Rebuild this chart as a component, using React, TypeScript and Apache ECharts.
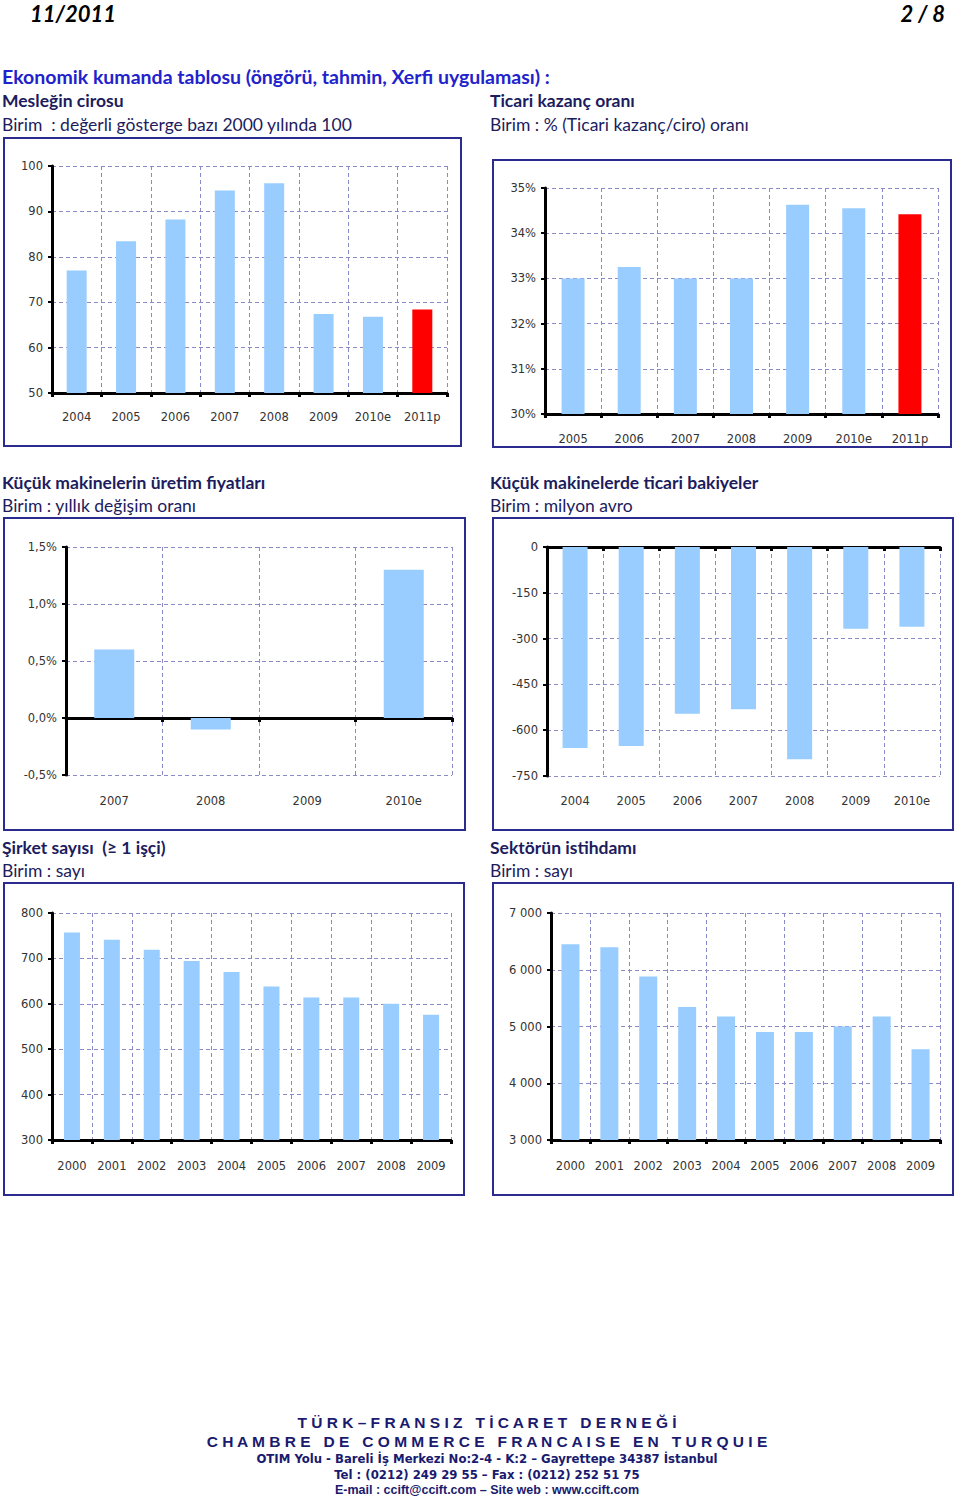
import React, { useEffect, useRef } from "react";
import * as echarts from "echarts";

const C1_CATS = ["2004", "2005", "2006", "2007", "2008", "2009", "2010e", "2011p"];
const C1_VALS = [77.0, 83.4, 88.2, 94.6, 96.2, 67.4, 66.8, 68.4];
const C2_CATS = ["2005", "2006", "2007", "2008", "2009", "2010e", "2011p"];
const C2_VALS = [33.0, 33.25, 33.0, 33.0, 34.63, 34.55, 34.42];
const C3_CATS = ["2007", "2008", "2009", "2010e"];
const C3_VALS = [0.6, -0.1, 0, 1.3];
const C4_CATS = ["2004", "2005", "2006", "2007", "2008", "2009", "2010e"];
const C4_VALS = [-658, -652, -546, -531, -695, -268, -261];
const C5_CATS = ["2000", "2001", "2002", "2003", "2004", "2005", "2006", "2007", "2008", "2009"];
const C5_VALS = [757, 741, 719, 694, 670, 638, 614, 614, 600, 576];
const C6_CATS = ["2000", "2001", "2002", "2003", "2004", "2005", "2006", "2007", "2008", "2009"];
const C6_VALS = [6450, 6395, 5880, 5345, 5175, 4905, 4905, 5000, 5175, 4600];

const BLUE = "#99ccff";
const RED = "#ff0000";
const GRIDC = "#8a8ac8";
const NAVY = "#1c1c5e";
const BOX = "#2b2b8f";
const LBL = { fontFamily: "DejaVu Sans", fontSize: 11.5, color: "#333" };

function txt(text: string, x: number, y: number, font: string, fill: string, align = "left") {
  return {
    type: "text",
    x,
    y,
    style: { text, font, fill, align, verticalAlign: "middle", textAlign: align, textVerticalAlign: "middle" },
  };
}
function box(x: number, y: number, w: number, h: number) {
  return { type: "rect", shape: { x, y, width: w, height: h }, style: { fill: "none", stroke: BOX, lineWidth: 2 } };
}

const split = { show: true, lineStyle: { color: GRIDC, width: 1, type: [4, 3] } };

function xMain(gi: number, cats: string[], showLabel: boolean, margin: number) {
  return {
    type: "category",
    gridIndex: gi,
    data: cats,
    position: "bottom",
    axisLine: { show: true, onZero: true, lineStyle: { color: "#000", width: 3 } },
    axisTick: { show: true, length: 4, lineStyle: { color: "#000", width: 3 } },
    axisLabel: { show: showLabel, margin, interval: 0, ...LBL },
    splitLine: split,
  };
}
function xLabels(gi: number, cats: string[], margin: number) {
  return {
    type: "category",
    gridIndex: gi,
    data: cats,
    position: "bottom",
    axisLine: { show: false, onZero: false },
    axisTick: { show: false },
    axisLabel: { show: true, margin, interval: 0, ...LBL },
    splitLine: { show: false },
  };
}
function yAx(gi: number, min: number, max: number, interval: number, fmt: (v: number) => string) {
  return {
    type: "value",
    gridIndex: gi,
    min,
    max,
    interval,
    axisLine: { show: true, lineStyle: { color: "#000", width: 3 } },
    axisTick: { show: true, length: 4, lineStyle: { color: "#000", width: 2 } },
    axisLabel: { margin: 9, formatter: fmt, ...LBL },
    splitLine: split,
  };
}
function bars(xi: number, yi: number, vals: number[], w: number, redLast = false) {
  return {
    type: "bar",
    xAxisIndex: xi,
    yAxisIndex: yi,
    barWidth: w,
    itemStyle: { color: BLUE },
    data: vals.map((v, i) => (redLast && i === vals.length - 1 ? { value: v, itemStyle: { color: RED } } : v)),
  };
}

export default function App() {
  const ref = useRef<HTMLDivElement>(null);
  useEffect(() => {
    if (!ref.current) return;
    const chart = echarts.init(ref.current, null, { renderer: "svg" });
    const F = "Lato";
    const head = `bold 17.5px ${F}`;
    const sub = `17.5px ${F}`;
    const foot = "bold 13px 'DejaVu Sans Condensed', 'DejaVu Sans'";
    const option: any = {
      animation: false,
      backgroundColor: "#fff",
      grid: [
        { left: 52, top: 166, width: 395, height: 227 },
        { left: 545, top: 188, width: 393, height: 226 },
        { left: 66, top: 547, width: 386, height: 228 },
        { left: 547, top: 547, width: 393, height: 229 },
        { left: 52, top: 913, width: 399, height: 227 },
        { left: 551, top: 913, width: 389, height: 227 },
      ],
      xAxis: [
        xMain(0, C1_CATS, true, 18),
        xMain(1, C2_CATS, true, 19),
        xMain(2, C3_CATS, false, 10),
        xLabels(2, C3_CATS, 20),
        xMain(3, C4_CATS, false, 10),
        xLabels(3, C4_CATS, 19),
        xMain(4, C5_CATS, true, 20),
        xMain(5, C6_CATS, true, 20),
      ],
      yAxis: [
        yAx(0, 50, 100, 10, (v) => String(v)),
        yAx(1, 30, 35, 1, (v) => `${v}%`),
        yAx(2, -0.5, 1.5, 0.5, (v) => `${v.toFixed(1).replace(".", ",")}%`),
        yAx(3, -750, 0, 150, (v) => String(v)),
        yAx(4, 300, 800, 100, (v) => String(v)),
        yAx(5, 3000, 7000, 1000, (v) => String(v).replace(/(\d)(\d{3})$/, "$1 $2")),
      ],
      series: [
        bars(0, 0, C1_VALS, 20, true),
        bars(1, 1, C2_VALS, 23, true),
        bars(2, 2, C3_VALS, 40),
        bars(4, 3, C4_VALS, 25),
        bars(6, 4, C5_VALS, 16),
        bars(7, 5, C6_VALS, 18),
      ],
      graphic: [
        txt("11/2011", 30, 13, `italic bold 22px ${F}`, "#000"),
        txt("2 / 8", 945, 13, `italic bold 22px ${F}`, "#000", "right"),
        txt("Ekonomik kumanda tablosu (öngörü, tahmin, Xerfi uygulaması) :", 2, 76, `bold 19.5px ${F}`, "#2222cc"),
        txt("Mesleğin cirosu", 2, 100, head, NAVY),
        txt("Birim  : değerli gösterge bazı 2000 yılında 100", 2, 124, sub, NAVY),
        txt("Ticari kazanç oranı", 490, 100, head, NAVY),
        txt("Birim : % (Ticari kazanç/ciro) oranı", 490, 124, sub, NAVY),
        txt("Küçük makinelerin üretim fiyatları", 2, 482, head, NAVY),
        txt("Birim : yıllık değişim oranı", 2, 505, sub, NAVY),
        txt("Küçük makinelerde ticari bakiyeler", 490, 482, head, NAVY),
        txt("Birim : milyon avro", 490, 505, sub, NAVY),
        txt("Şirket sayısı  (≥ 1 işçi)", 2, 847, head, NAVY),
        txt("Birim : sayı", 2, 870, sub, NAVY),
        txt("Sektörün istihdamı", 490, 847, head, NAVY),
        txt("Birim : sayı", 490, 870, sub, NAVY),
        box(4, 138, 457, 308),
        box(493, 160, 458, 287),
        box(4, 518, 461, 312),
        box(493, 518, 460, 312),
        box(4, 883, 460, 312),
        box(493, 883, 460, 312),
        txt("T Ü R K – F R A N S I Z   T İ C A R E T   D E R N E Ğ İ", 487, 1422, "bold 15.5px 'Liberation Sans'", "#1a1a6e", "center"),
        txt("C H A M B R E   D E   C O M M E R C E   F R A N C A I S E   E N   T U R Q U I E", 487, 1441, "bold 15.5px 'Liberation Sans'", "#1a1a6e", "center"),
        txt("OTIM Yolu - Bareli İş Merkezi No:2-4 - K:2 – Gayrettepe 34387 İstanbul", 487, 1458, foot, "#1a1a6e", "center"),
        txt("Tel : (0212) 249 29 55 – Fax : (0212) 252 51 75", 487, 1474, foot, "#1a1a6e", "center"),
        txt("E-mail : ccift@ccift.com – Site web : www.ccift.com", 487, 1490, "bold 12.5px 'Liberation Sans'", "#1a1a6e", "center"),
      ],
    };
    chart.setOption(option);
    return () => chart.dispose();
  }, []);
  return <div ref={ref} style={{ position: "absolute", left: 0, top: 0, width: 960, height: 1500 }} />;
}
